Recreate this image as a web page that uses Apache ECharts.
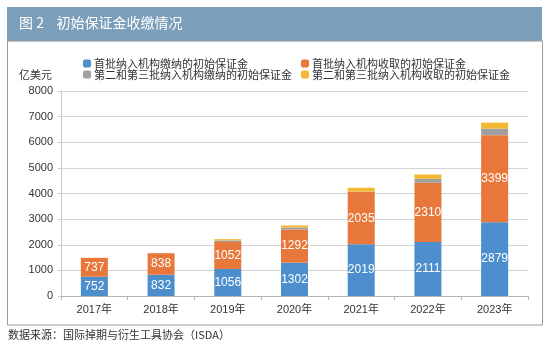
<!DOCTYPE html>
<html>
<head>
<meta charset="utf-8">
<script src="https://cdn.jsdelivr.net/npm/echarts@6/dist/echarts.min.js"></script>
<style>
html, body { margin: 0; padding: 0; background: #fff; }
#chart { width: 550px; height: 352px; }
</style>
</head>
<body>
<div id="chart"></div>
<script>
// 数据
var years = ['2017年', '2018年', '2019年', '2020年', '2021年', '2022年', '2023年'];
var firstPaid = [752, 832, 1056, 1302, 2019, 2111, 2879];       // 首批纳入机构缴纳
var firstRecv = [737, 838, 1052, 1292, 2035, 2310, 3399];       // 首批纳入机构收取
var laterPaid = [0, 0, 60, 80, 20, 150, 250];                   // 第二和第三批缴纳
var laterRecv = [0, 0, 50, 80, 150, 170, 240];                  // 第二和第三批收取
var seriesNames = ['首批纳入机构缴纳的初始保证金', '首批纳入机构收取的初始保证金',
	'第二和第三批纳入机构缴纳的初始保证金', '第二和第三批纳入机构收取的初始保证金'];

var font = '"Liberation Sans", "Noto Sans CJK SC", sans-serif';
var cjk = '"Noto Sans CJK SC", sans-serif';

var myChart = echarts.init(document.getElementById('chart'));

function barSeries(name, data, color, showLabel) {
	return {
		name: name,
		type: 'bar',
		stack: 'total',
		barWidth: 27,
		data: data,
		itemStyle: { color: color },
		label: {
			show: showLabel,
			position: 'inside',
			color: '#fff',
			fontSize: 12,
			fontFamily: font
		}
	};
}

var option = {
	animation: false,
	textStyle: { fontFamily: font },
	graphic: [
		{ // 标题栏
			type: 'rect',
			shape: { x: 7, y: 7, width: 535, height: 34 },
			style: { fill: '#7b9eba' }
		},
		{
			type: 'text',
			left: 19, top: 16,
			style: { text: '图 2    初始保证金收缴情况', fill: '#fff', font: '14px ' + cjk }
		},
		{ // 外框
			type: 'rect',
			shape: { x: 7.5, y: 41, width: 535, height: 284 },
			style: { fill: 'none', stroke: '#9a9a9a', lineWidth: 1 }
		},
		{
			type: 'text',
			left: 19, top: 69,
			style: { text: '亿美元', fill: '#333', font: '11px ' + cjk }
		},
		{
			type: 'text',
			left: 8, top: 329,
			style: { text: '数据来源：国际掉期与衍生工具协会（ISDA）', fill: '#333', font: '11px ' + cjk }
		}
	],
	legend: [{
		orient: 'vertical',
		left: 78, top: 53,
		itemWidth: 8, itemHeight: 8, itemGap: 0,
		data: [seriesNames[0], seriesNames[2]],
		textStyle: { color: '#333', fontSize: 11, fontFamily: cjk, padding: [0, 0, 0, -2] }
	}, {
		orient: 'vertical',
		left: 296, top: 53,
		itemWidth: 8, itemHeight: 8, itemGap: 0,
		data: [seriesNames[1], seriesNames[3]],
		textStyle: { color: '#333', fontSize: 11, fontFamily: cjk, padding: [0, 0, 0, -2] }
	}],
	grid: { left: 61, right: 22, top: 91, bottom: 56 },
	xAxis: {
		type: 'category',
		data: years,
		axisLine: { lineStyle: { color: '#b5b5b5' } },
		axisTick: { show: true, length: 4, lineStyle: { color: '#b5b5b5' } },
		axisLabel: { color: '#333', fontSize: 11, fontFamily: font, margin: 8 }
	},
	yAxis: {
		type: 'value',
		min: 0, max: 8000, interval: 1000,
		axisLine: { show: true, lineStyle: { color: '#c8c8c8' } },
		axisTick: { show: true, length: 3, lineStyle: { color: '#c8c8c8' } },
		axisLabel: { color: '#333', fontSize: 11, fontFamily: font, margin: 8, formatter: function (v) { return String(v); } },
		splitLine: { lineStyle: { color: '#d4d4d4' } }
	},
	series: [
		barSeries(seriesNames[0], firstPaid, '#4d8fcd', true),
		barSeries(seriesNames[1], firstRecv, '#e8773b', true),
		barSeries(seriesNames[2], laterPaid, '#a0a0a0', false),
		barSeries(seriesNames[3], laterRecv, '#f4b835', false)
	]
};

myChart.setOption(option);
</script>
</body>
</html>
